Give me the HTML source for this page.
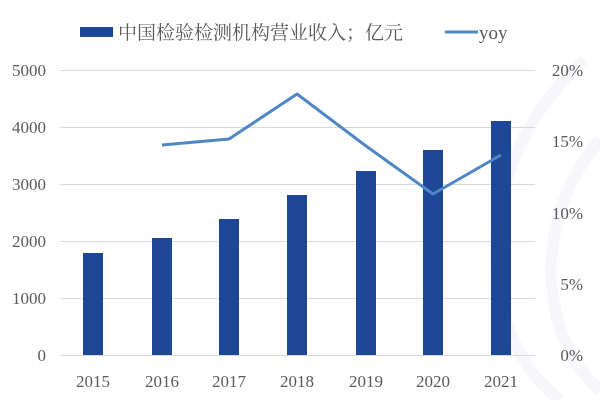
<!DOCTYPE html>
<html><head><meta charset="utf-8"><style>
body{margin:0;background:#fff;width:600px;height:400px;overflow:hidden}
svg text{font-family:"Liberation Serif","Noto Serif CJK SC",serif;fill:#595959}
</style></head><body>
<svg width="600" height="400" viewBox="0 0 600 400">
<g fill="none" stroke="#f0f0f8" stroke-width="12" opacity="0.5">
<path d="M585 60 C470 160 470 330 560 400"/>
<path d="M600 140 C530 220 540 340 600 390"/>
</g>
<g stroke="#d9d9d9" stroke-width="1">
<line x1="60" y1="70.5" x2="535" y2="70.5"/>
<line x1="60" y1="127.5" x2="535" y2="127.5"/>
<line x1="60" y1="184.5" x2="535" y2="184.5"/>
<line x1="60" y1="241.5" x2="535" y2="241.5"/>
<line x1="60" y1="298.5" x2="535" y2="298.5"/>
<line x1="60" y1="355.5" x2="535" y2="355.5"/>
</g>
<g fill="#1f4797">
<rect x="83" y="253" width="20" height="102"/>
<rect x="152" y="238" width="20" height="117"/>
<rect x="219" y="219" width="20" height="136"/>
<rect x="287" y="195" width="20" height="160"/>
<rect x="356" y="171" width="20" height="184"/>
<rect x="423" y="150" width="20" height="205"/>
<rect x="491" y="121" width="20" height="234"/>
</g>
<polyline points="162,145 229,139 297,94 366,146 433,194 501,155" fill="none" stroke="#4f86c6" stroke-width="3" stroke-linejoin="round"/>
<g font-size="17" text-anchor="end">
<text x="46" y="76">5000</text><text x="46" y="133">4000</text><text x="46" y="190">3000</text>
<text x="46" y="247">2000</text><text x="46" y="304">1000</text><text x="46" y="361">0</text>
</g>
<g font-size="17" text-anchor="end">
<text x="583" y="76">20%</text><text x="583" y="147">15%</text><text x="583" y="219">10%</text>
<text x="583" y="290">5%</text><text x="583" y="361">0%</text>
</g>
<g font-size="17" text-anchor="middle">
<text x="93" y="387">2015</text><text x="162" y="387">2016</text><text x="229" y="387">2017</text>
<text x="297" y="387">2018</text><text x="366" y="387">2019</text><text x="433" y="387">2020</text>
<text x="501" y="387">2021</text>
</g>
<rect x="80" y="27" width="33" height="10" fill="#1f4797"/>
<text x="118" y="39" font-size="19" fill="#666">中国检验检测机构营业收入；亿元</text>
<line x1="445" y1="32" x2="478" y2="32" stroke="#4f86c6" stroke-width="3"/>
<text x="479" y="39" font-size="19">yoy</text>
</svg>
</body></html>
